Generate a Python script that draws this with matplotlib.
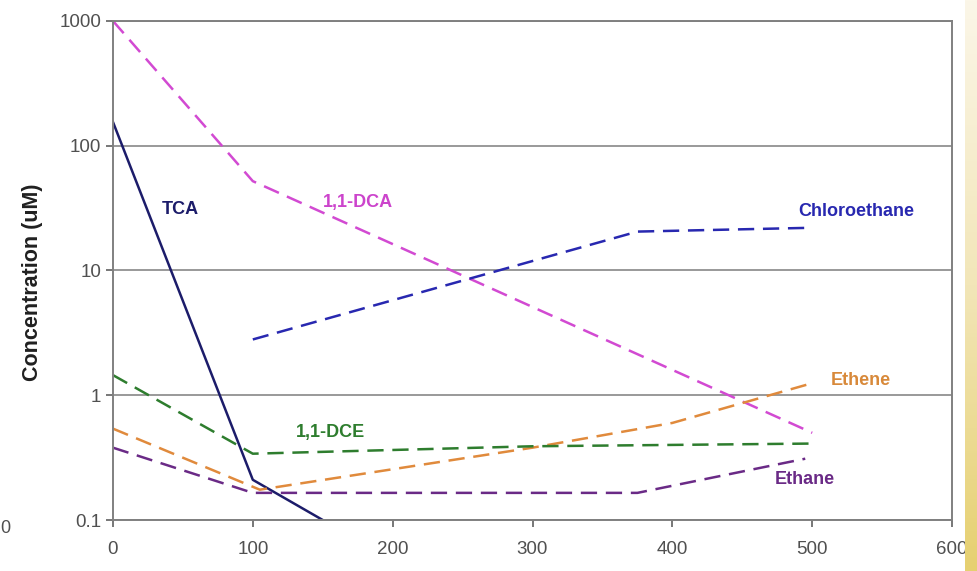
import numpy as np
import matplotlib
matplotlib.use("Agg")
import matplotlib.pyplot as plt

plt.rcParams["font.family"] = ["Liberation Sans", "DejaVu Sans"]

# data (time, concentration uM)
tca_x = [0, 100, 150]
tca_y = [155, 0.21, 0.1]

dca_x = [0, 100, 500]
dca_y = [1000, 52, 0.5]

chloro_x = [100, 375, 500]
chloro_y = [2.8, 20.5, 22]

ethene_x = [0, 105, 300, 400, 500]
ethene_y = [0.54, 0.175, 0.38, 0.6, 1.25]

dce_x = [0, 100, 300, 500]
dce_y = [1.45, 0.34, 0.39, 0.41]

ethane_x = [0, 100, 375, 495]
ethane_y = [0.38, 0.165, 0.165, 0.31]

xticks = [0, 100, 200, 300, 400, 500, 600]
yticks = [0.1, 1, 10, 100, 1000]
ytick_labels = ["0.1", "1", "10", "100", "1000"]

fig = plt.figure(figsize=(9.78, 5.71), dpi=100)
ax = fig.add_axes([0.1155, 0.0893, 0.858, 0.874])

# yellow slide edge on the right
edge = fig.add_axes([0.9867, 0, 0.0133, 1])
grad = np.linspace(0, 1, 256).reshape(-1, 1)
cmap = matplotlib.colors.LinearSegmentedColormap.from_list(
    "slide", ["#fbf6e8", "#f2e6b8", "#e6d070"])
edge.imshow(grad, aspect="auto", cmap=cmap, extent=[0, 1, 0, 1], origin="upper")
edge.axis("off")

dash = (6.5, 3.5)
lw = 1.8
ax.plot(tca_x, tca_y, color="#1c1c6a", lw=1.8)
ax.plot(dca_x, dca_y, color="#d24ad2", lw=lw, dashes=dash)
ax.plot(chloro_x, chloro_y, color="#2828b0", lw=lw, dashes=dash)
ax.plot(ethene_x, ethene_y, color="#e08a3c", lw=lw, dashes=dash)
ax.plot(dce_x, dce_y, color="#2e7d2e", lw=lw, dashes=dash)
ax.plot(ethane_x, ethane_y, color="#6a2a86", lw=lw, dashes=dash)

lab = dict(fontsize=13, fontweight="bold", va="center", ha="left")
ax.text(35, 31, "TCA", color="#1c1c6a", **lab)
ax.text(150, 35, "1,1-DCA", color="#cc44cc", **lab)
ax.text(490, 29.6, "Chloroethane", color="#2828b0", **lab)
ax.text(513, 1.32, "Ethene", color="#d8893a", **lab)
ax.text(131, 0.5, "1,1-DCE", color="#2e7d2e", **lab)
ax.text(473, 0.21, "Ethane", color="#6a2a86", **lab)

ax.set_yscale("log")
ax.set_xlim(0, 600)
ax.set_ylim(0.1, 1000)
ax.set_xticks(xticks)
ax.set_yticks(yticks)
ax.set_yticklabels(ytick_labels)
ax.minorticks_off()
ax.tick_params(axis="both", labelsize=13.5, labelcolor="#505050",
               color="#606060", length=5, width=1.2)
ax.tick_params(axis="x", pad=10)
ax.yaxis.grid(True, color="#999999", lw=1.4)
for s in ax.spines.values():
    s.set_color("#808080")
    s.set_linewidth(1.4)

ax.set_ylabel("Concentration (uM)", fontsize=15.5, fontweight="bold",
              color="#202020")
ax.yaxis.set_label_coords(-0.083, 0.477)

fig.text(0.0, 0.075, "0", fontsize=13, color="#505050", ha="left", va="center")

fig.savefig("out.png", dpi=100, facecolor="white")
